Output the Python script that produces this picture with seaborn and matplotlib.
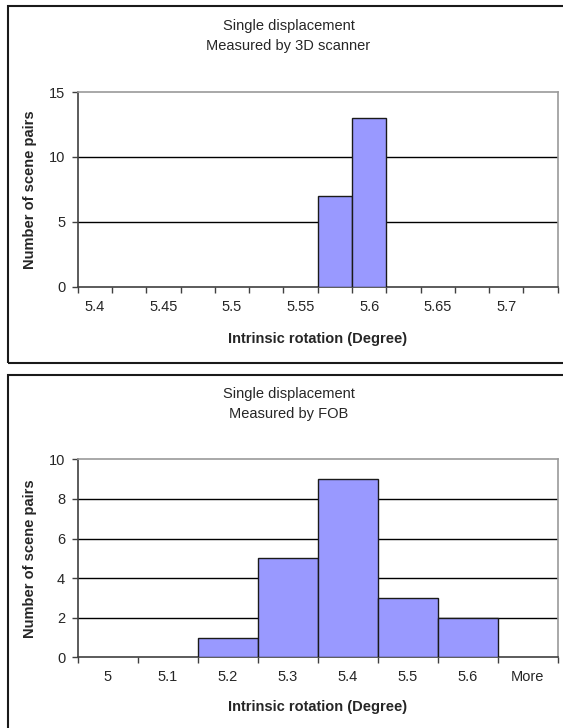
import matplotlib
matplotlib.use("Agg")
import matplotlib.pyplot as plt
from matplotlib.patches import Rectangle
import seaborn as sns
import pandas as pd

# ---------------- data ----------------
top_bins = ["5.4", "5.425", "5.45", "5.475", "5.5", "5.525", "5.55",
            "5.575", "5.6", "5.625", "5.65", "5.675", "5.7", "5.725"]
top_counts = [0, 0, 0, 0, 0, 0, 0, 7, 13, 0, 0, 0, 0, 0]
top_ticklabels = ["5.4", "", "5.45", "", "5.5", "", "5.55",
                  "", "5.6", "", "5.65", "", "5.7", ""]
top_yticks = [0, 5, 10, 15]
top_title = ["Single displacement", "Measured by 3D scanner"]

bot_bins = ["5", "5.1", "5.2", "5.3", "5.4", "5.5", "5.6", "More"]
bot_counts = [0, 0, 1, 5, 9, 3, 2, 0]
bot_ticklabels = ["5", "5.1", "5.2", "5.3", "5.4", "5.5", "5.6", "More"]
bot_yticks = [0, 2, 4, 6, 8, 10]
bot_title = ["Single displacement", "Measured by FOB"]

xlabel = "Intrinsic rotation (Degree)"
ylabel = "Number of scene pairs"

# ---------------- style ----------------
sns.set_style("white")
plt.rcParams["font.family"] = ["Liberation Sans", "DejaVu Sans"]
FS = 10.5
BAR = "#9999FF"

W, H = 563, 728
fig = plt.figure(figsize=(W / 100, H / 100), dpi=100)
fig.patch.set_facecolor("white")


def px_axes(left, top, right, bottom):
    return fig.add_axes([left / W, 1 - bottom / H, (right - left) / W, (bottom - top) / H])


def frame(left, top, right, bottom):
    r = Rectangle((left / W, 1 - bottom / H), (right - left) / W, (bottom - top) / H,
                  transform=fig.transFigure, fill=False, edgecolor="#1a1a1a",
                  linewidth=1.5, zorder=0)
    fig.add_artist(r)


def panel(ax, bins, counts, ticklabels, yticks, title, frame_top, title_x):
    df = pd.DataFrame({"bin": bins, "count": counts})
    sns.barplot(data=df, x="bin", y="count", order=bins, color=BAR, width=1.0,
                edgecolor="#1a1a1a", linewidth=1.0, saturation=1, ax=ax, zorder=3)
    for p in ax.patches:
        if p.get_height() == 0:
            p.set_linewidth(0)
    n = len(bins)
    ax.set_xlim(-0.5, n - 0.5)
    ax.set_ylim(yticks[0], yticks[-1])
    ax.set_yticks(yticks)
    ax.set_yticklabels([str(v) for v in yticks], fontsize=FS)
    # boundaries as major ticks, labels on centers (minor)
    ax.set_xticks([i - 0.5 for i in range(n + 1)])
    ax.set_xticklabels([""] * (n + 1))
    ax.set_xticks(list(range(n)), minor=True)
    ax.set_xticklabels(ticklabels, minor=True, fontsize=FS)
    ax.tick_params(axis="x", which="major", direction="out", length=4, width=1,
                   color="#404040", bottom=True)
    ax.tick_params(axis="x", which="minor", length=0, pad=9.5, bottom=True)
    ax.tick_params(axis="y", direction="out", length=4, width=1, color="#404040",
                   pad=5, left=True)
    for v in yticks[1:-1]:
        ax.axhline(v, color="black", linewidth=1.0, zorder=1)
    for s in ["top", "right"]:
        ax.spines[s].set_color("#9a9a9a")
        ax.spines[s].set_linewidth(1.2)
    for s in ["left", "bottom"]:
        ax.spines[s].set_color("#404040")
        ax.spines[s].set_linewidth(1.2)
    ax.set_xlabel(xlabel, fontsize=FS, fontweight="bold")
    ax.set_ylabel(ylabel, fontsize=FS, fontweight="bold")
    ax.xaxis.label.set_va("center")
    ax.yaxis.label.set_va("center")
    fig.text(title_x / W, 1 - (frame_top + 19.7) / H, title[0], fontsize=FS,
             ha="center", va="center")
    fig.text(title_x / W, 1 - (frame_top + 39.7) / H, title[1], fontsize=FS,
             ha="center", va="center")


# top panel
frame(7.7, 6.3, 575, 362.7)
ax1 = px_axes(77.7, 92, 557.7, 286.7)
panel(ax1, top_bins, top_counts, top_ticklabels, top_yticks, top_title, 6.3, 288.5)
ax1.xaxis.set_label_coords(0.5, -(339 - 286.7) / (286.7 - 92))
ax1.yaxis.set_label_coords((30 - 77.7) / 480, 0.5)

# bottom panel
frame(7.7, 374.7, 575, 740)
ax2 = px_axes(77.7, 459.3, 557.7, 657.3)
panel(ax2, bot_bins, bot_counts, bot_ticklabels, bot_yticks, bot_title, 374.7, 288.5)
ax2.xaxis.set_label_coords(0.5, -(706.7 - 657.3) / (657.3 - 459.3))
ax2.yaxis.set_label_coords((30 - 77.7) / 480, 0.5)

fig.savefig("out.png", dpi=100)
